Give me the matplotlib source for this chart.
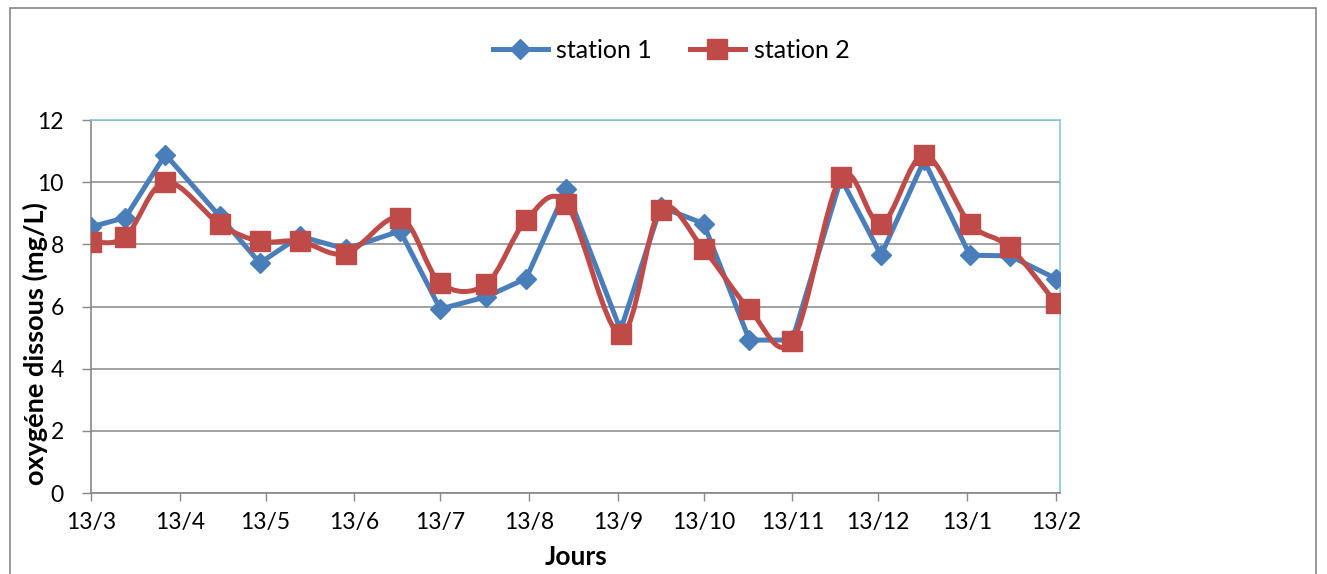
import numpy as np
import matplotlib
matplotlib.use("Agg")
import matplotlib.pyplot as plt
import matplotlib.dates as mdates
from matplotlib.path import Path
from matplotlib.patches import PathPatch, Rectangle
from matplotlib.lines import Line2D

# ---- data ----
dates = ["2012-03-13", "2012-03-25", "2012-04-08", "2012-04-27", "2012-05-11",
         "2012-05-25", "2012-06-10", "2012-06-29", "2012-07-13", "2012-07-29",
         "2012-08-12", "2012-08-26", "2012-09-14", "2012-09-28", "2012-10-13",
         "2012-10-29", "2012-11-13", "2012-11-30", "2012-12-14", "2012-12-29",
         "2013-01-14", "2013-01-28", "2013-02-13"]
station1 = [8.56, 8.86, 10.89, 8.9, 7.4, 8.26, 7.85, 8.43, 5.92, 6.31, 6.9, 9.77,
            5.24, 9.2, 8.67, 4.92, 4.92, 10.12, 7.65, 10.7, 7.65, 7.63, 6.9]
station2 = [8.08, 8.24, 10.01, 8.65, 8.1, 8.1, 7.7, 8.86, 6.76, 6.72, 8.78, 9.31,
            5.11, 9.12, 7.84, 5.91, 4.89, 10.17, 8.67, 10.87, 8.67, 7.9, 6.12]
month_ticks = ["2012-03-13", "2012-04-13", "2012-05-13", "2012-06-13", "2012-07-13",
               "2012-08-13", "2012-09-13", "2012-10-13", "2012-11-13", "2012-12-13",
               "2013-01-13", "2013-02-13"]
month_labels = ["13/3", "13/4", "13/5", "13/6", "13/7", "13/8", "13/9", "13/10",
                "13/11", "13/12", "13/1", "13/2"]
series_names = ["station 1", "station 2"]
y_label = "oxygéne dissous (mg/L)"
x_label = "Jours"

BLUE = "#4A7EBB"
RED = "#BE4B48"
FONT = "Lato"

plt.rcParams['font.family'] = [FONT, 'DejaVu Sans']

x = mdates.date2num(np.array(dates, dtype="datetime64[D]"))
xt = mdates.date2num(np.array(month_ticks, dtype="datetime64[D]"))

W, H = 1327, 574
fig = plt.figure(figsize=(W / 100, H / 100), dpi=100)
ax = fig.add_axes([91 / W, (H - 493) / H, (1060 - 91) / W, (493 - 120) / H])


def smooth_path(xs, ys):
    """Excel-like smoothed line (Catmull-Rom as cubic Bezier)."""
    pts = np.column_stack([xs, ys])
    n = len(pts)
    verts = [pts[0]]
    codes = [Path.MOVETO]
    for i in range(n - 1):
        p0 = pts[i - 1] if i > 0 else pts[i]
        p1 = pts[i]
        p2 = pts[i + 1]
        p3 = pts[i + 2] if i + 2 < n else pts[i + 1]
        c1 = p1 + (p2 - p0) / 6.0
        c2 = p2 - (p3 - p1) / 6.0
        verts += [c1, c2, p2]
        codes += [Path.CURVE4] * 3
    return Path(verts, codes)


# gridlines
ax.set_ylim(0, 12)
ax.set_yticks(np.arange(0, 13, 2))
ax.yaxis.grid(True, color="#878787", linewidth=1.1)
ax.set_axisbelow(True)

# station 1 (straight)
ax.plot(x, station1, color=BLUE, linewidth=3.6, marker="D", markersize=10.5,
        markerfacecolor=BLUE, markeredgecolor=BLUE, zorder=3, solid_joinstyle="round")
# station 2 (smoothed)
ax.add_patch(PathPatch(smooth_path(x, station2), facecolor="none", edgecolor=RED,
                       linewidth=3.6, zorder=4, joinstyle="round"))
ax.plot(x, station2, linestyle="none", marker="s", markersize=14,
        markerfacecolor=RED, markeredgecolor=RED, zorder=5)

ax.set_xlim(xt[0], xt[-1] + 1.5)
ax.set_xticks(xt)
ax.set_xticklabels(month_labels)

for s in ["top", "right"]:
    ax.spines[s].set_color("#86C8D8")
    ax.spines[s].set_linewidth(1.2)
for s in ["left", "bottom"]:
    ax.spines[s].set_color("#878787")
    ax.spines[s].set_linewidth(1.2)

ax.tick_params(axis="both", direction="out", width=1, color="#878787",
               labelsize=16.5, labelcolor="black")
ax.tick_params(axis="x", length=6, pad=8)
ax.tick_params(axis="y", length=6.5, pad=13)

fig.text(35 / W, 1 - 344 / H, y_label, rotation=90, ha="center", va="center",
         fontsize=19.5, fontweight="bold")
fig.text(576 / W, 1 - 557 / H, x_label, ha="center", va="center",
         fontsize=19, fontweight="bold")

# legend
handles = [Line2D([], [], color=BLUE, linewidth=3.6, marker="D", markersize=10.5),
           Line2D([], [], color=RED, linewidth=3.6, marker="s", markersize=14)]
fig.legend(handles, series_names, loc="center", bbox_to_anchor=(671 / W, 1 - 50 / H),
           ncol=2, frameon=False, fontsize=18, handlelength=2.2,
           columnspacing=1.5, handletextpad=0.35)

# outer chart border
fig.patches.append(Rectangle((10 / W, -0.05), (1316 - 10) / W, 1.05 - 8 / H,
                             transform=fig.transFigure, fill=False,
                             edgecolor="#868686", linewidth=1.2))

fig.savefig("out.png", dpi=100)
